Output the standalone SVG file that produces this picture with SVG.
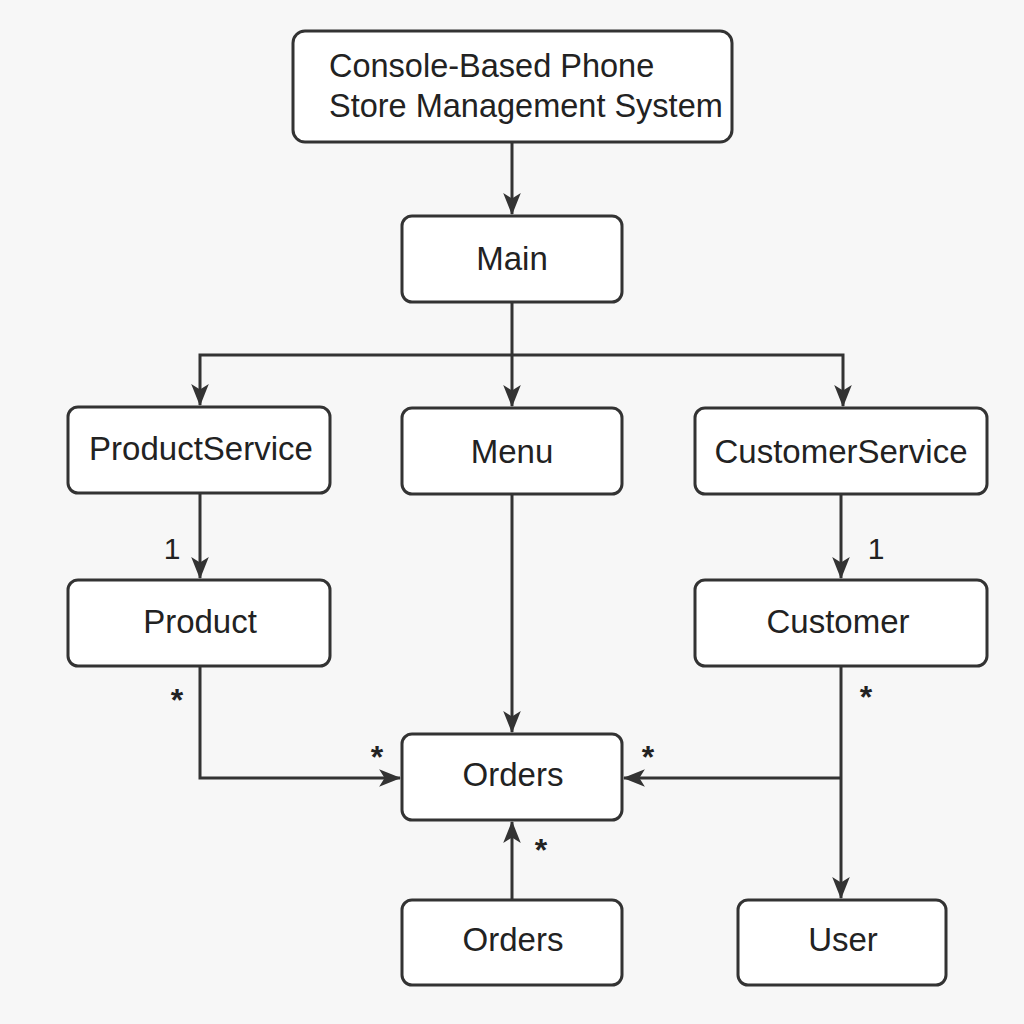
<svg xmlns="http://www.w3.org/2000/svg" width="1024" height="1024" viewBox="0 0 1024 1024">
<defs>
<marker id="arr" viewBox="0 0 20 20" refX="19" refY="10" markerWidth="22" markerHeight="22" markerUnits="userSpaceOnUse" orient="auto">
<path d="M0,2 L20,10 L0,18 L5,10 Z" fill="#333"/>
</marker>
<style>
.box{fill:#fff;stroke:#333;stroke-width:3}
.t{font-family:"Liberation Sans",Arial,sans-serif;font-size:33px;fill:#222;text-anchor:middle;dominant-baseline:central}
.tl{font-family:"Liberation Sans",Arial,sans-serif;font-size:32.5px;fill:#222}
.c{fill:none;stroke:#333;stroke-width:3}
.lbl{font-family:"Liberation Sans",Arial,sans-serif;font-size:30px;fill:#222;text-anchor:middle;dominant-baseline:central}
.st{font-family:"Liberation Sans",Arial,sans-serif;font-size:32px;font-weight:bold;fill:#222;text-anchor:middle}
</style>
</defs>
<rect width="1024" height="1024" fill="#f7f7f7"/>
<g id="connectors">
<path class="c" d="M512,142 V214" marker-end="url(#arr)"/>
<path class="c" d="M512,302 V406" marker-end="url(#arr)"/>
<path class="c" d="M512,355 H200 V405" marker-end="url(#arr)"/>
<path class="c" d="M512,355 H843 V406" marker-end="url(#arr)"/>
<path class="c" d="M200,493 V578" marker-end="url(#arr)"/>
<path class="c" d="M841,494 V578" marker-end="url(#arr)"/>
<path class="c" d="M512,494 V732" marker-end="url(#arr)"/>
<path class="c" d="M200,666 V778 H400" marker-end="url(#arr)"/>
<path class="c" d="M841,778 H624" marker-end="url(#arr)"/>
<path class="c" d="M841,666 V898" marker-end="url(#arr)"/>
<path class="c" d="M512,900 V822" marker-end="url(#arr)"/>
<text class="lbl" x="172" y="548">1</text>
<text class="lbl" x="876" y="548">1</text>
<text class="st" x="177" y="711">*</text>
<text class="st" x="377" y="768">*</text>
<text class="st" x="648" y="768">*</text>
<text class="st" x="866" y="708">*</text>
<text class="st" x="541" y="861">*</text>
</g>
<g id="title">
<rect class="box" x="293" y="31" width="439" height="111" rx="12"/>
<text class="tl" x="329" y="77">Console-Based Phone</text>
<text class="tl" x="329" y="117">Store Management System</text>
</g>
<g id="main"><rect class="box" x="402" y="216" width="220" height="86" rx="10"/><text class="t" x="512" y="258">Main</text></g>
<g id="productservice"><rect class="box" x="68" y="407" width="262" height="86" rx="10"/><text class="t" x="201" y="448">ProductService</text></g>
<g id="menu"><rect class="box" x="402" y="408" width="220" height="86" rx="10"/><text class="t" x="512" y="451">Menu</text></g>
<g id="customerservice"><rect class="box" x="695" y="408" width="292" height="86" rx="10"/><text class="t" x="841" y="451">CustomerService</text></g>
<g id="product"><rect class="box" x="68" y="580" width="262" height="86" rx="10"/><text class="t" x="200" y="621">Product</text></g>
<g id="customer"><rect class="box" x="695" y="580" width="292" height="86" rx="10"/><text class="t" x="838" y="621">Customer</text></g>
<g id="orders"><rect class="box" x="402" y="734" width="220" height="86" rx="10"/><text class="t" x="513" y="774">Orders</text></g>
<g id="orders2"><rect class="box" x="402" y="900" width="220" height="85" rx="10"/><text class="t" x="513" y="939">Orders</text></g>
<g id="user"><rect class="box" x="738" y="900" width="208" height="85" rx="10"/><text class="t" x="843" y="939">User</text></g>
</svg>
